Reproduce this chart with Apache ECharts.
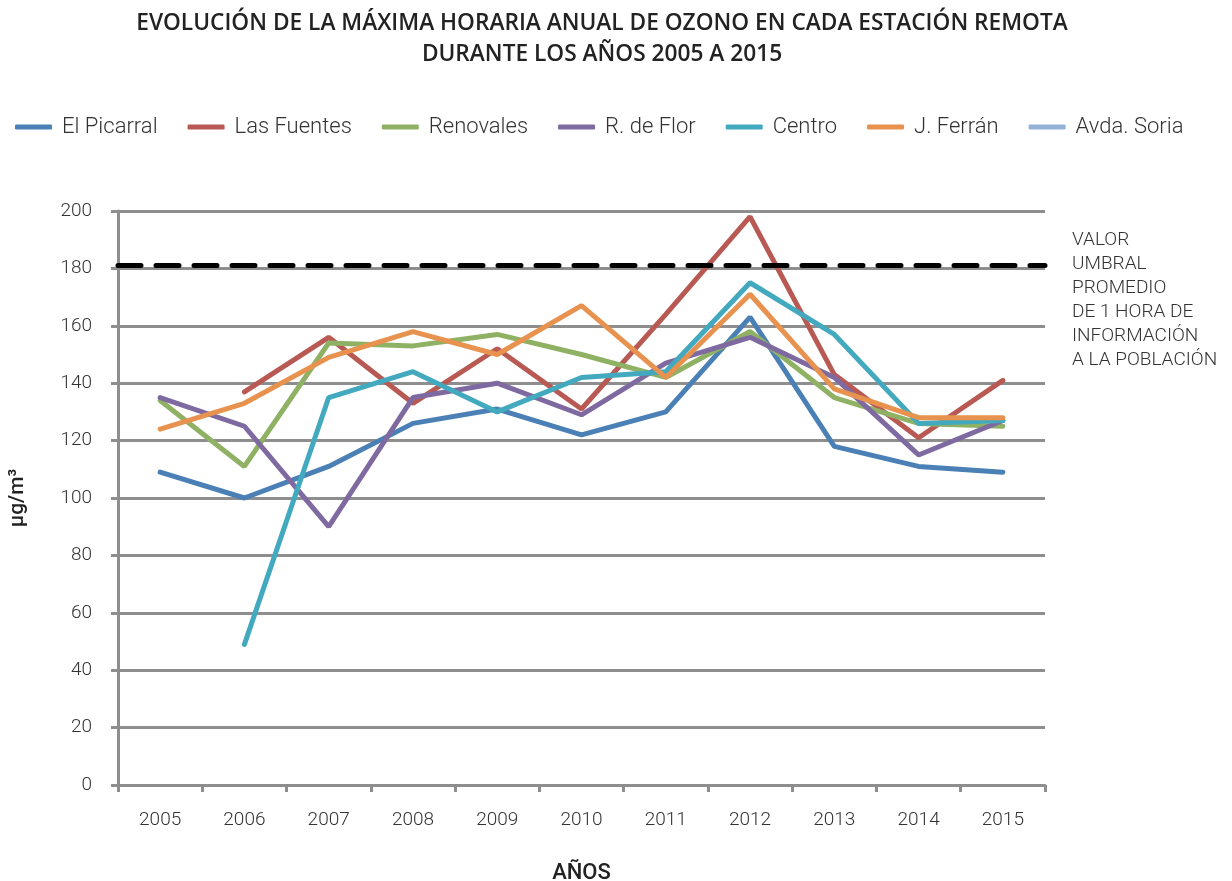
<!DOCTYPE html>
<html>
<head>
<meta charset="utf-8">
<title>Ozono</title>
<script src="https://cdn.jsdelivr.net/npm/echarts@6/dist/echarts.min.js"></script>
<style>
  html, body { margin: 0; padding: 0; background: #fff; overflow: hidden; }
  #chart { width: 1232px; height: 881px; }
</style>
</head>
<body>
<div id="chart"></div>
<script>
// datos (µg/m3)
var years = ["2005", "2006", "2007", "2008", "2009", "2010", "2011", "2012", "2013", "2014", "2015"];
var elPicarral = [109, 100, 111, 126, 131, 122, 130, 163, 118, 111, 109];
var lasFuentes = [null, 137, 156, 133, 152, 131, 164, 198, 143, 121, 141];
var renovales  = [134, 111, 154, 153, 157, 150, 142, 158, 135, 126, 125];
var rDeFlor    = [135, 125, 90, 135, 140, 129, 147, 156, 142, 115, 127];
var centro     = [null, 49, 135, 144, 130, 142, 144, 175, 157, 126, 127];
var jFerran    = [124, 133, 149, 158, 150, 167, 142, 171, 138, 128, 128];
var avdaSoria  = [null, null, null, null, null, null, null, null, null, null, null];
var umbral = 181;

var names = ["El Picarral", "Las Fuentes", "Renovales", "R. de Flor", "Centro", "J. Ferrán", "Avda. Soria"];
var values = [elPicarral, lasFuentes, renovales, rDeFlor, centro, jFerran, avdaSoria];
var colors = ["#4b80b6", "#b85a53", "#8fb163", "#7e6aa1", "#42a9bf", "#e8924f", "#94b2d6"];

var font = "Roboto";
var myChart = echarts.init(document.getElementById("chart"));

var series = names.map(function (n, i) {
  var s = {
    name: n,
    type: "line",
    data: values[i],
    showSymbol: false,
    symbol: "none",
    connectNulls: false,
    lineStyle: { width: 5, color: colors[i], cap: "round" },
    itemStyle: { color: colors[i] },
    animation: false
  };
  if (i === 0) {
    // linea del umbral de informacion
    s.markLine = {
      silent: true,
      symbol: "none",
      animation: false,
      label: { show: false },
      lineStyle: { color: "#000", width: 5, type: [23, 15], cap: "round" },
      data: [{ yAxis: umbral }]
    };
  }
  return s;
});

var option = {
  backgroundColor: "#fff",
  title: {
    text: "EVOLUCIÓN DE LA MÁXIMA HORARIA ANUAL DE OZONO EN CADA ESTACIÓN REMOTA\nDURANTE LOS AÑOS 2005 A 2015",
    left: 597,
    textAlign: "center",
    top: 3,
    textStyle: { fontFamily: "Open Sans", fontSize: 22.7, fontWeight: 600, color: "#222", lineHeight: 31 }
  },
  legend: {
    left: 10,
    top: 111,
    icon: "roundRect",
    itemWidth: 37,
    itemHeight: 5,
    itemGap: 30,
    data: names,
    textStyle: { fontFamily: font, fontSize: 22, fontWeight: 300, color: "#333", padding: [0, 0, 0, 5] }
  },
  grid: { left: 118, width: 927, top: 211, height: 574, outerBoundsMode: "none", containLabel: false },
  xAxis: {
    type: "category",
    data: years,
    boundaryGap: true,
    name: "AÑOS",
    nameLocation: "middle",
    nameGap: 77,
    nameTextStyle: { fontFamily: font, fontSize: 22, fontWeight: 500, color: "#222" },
    axisLine: { lineStyle: { color: "#8e8e8e", width: 3 } },
    axisTick: { show: true, length: 7, lineStyle: { color: "#8e8e8e", width: 3 } },
    axisLabel: { fontFamily: font, fontSize: 19, fontWeight: 300, color: "#333", margin: 26 }
  },
  yAxis: {
    type: "value",
    min: 0,
    max: 200,
    interval: 20,
    name: "µg/m³",
    nameLocation: "middle",
    nameGap: 90,
    nameRotate: 90,
    nameTextStyle: { fontFamily: font, fontSize: 21, fontWeight: 500, color: "#222" },
    axisLine: { show: true, lineStyle: { color: "#8e8e8e", width: 3 } },
    axisTick: { show: true, length: 7, lineStyle: { color: "#8e8e8e", width: 3 } },
    splitLine: { lineStyle: { color: "#8e8e8e", width: 3 } },
    axisLabel: { fontFamily: font, fontSize: 19, fontWeight: 300, color: "#333", margin: 26 }
  },
  graphic: [{
    type: "text",
    left: 1072,
    top: 228,
    style: {
      text: "VALOR\nUMBRAL\nPROMEDIO\nDE 1 HORA DE\nINFORMACIÓN\nA LA POBLACIÓN",
      fontFamily: font,
      fontSize: 19,
      fontWeight: 300,
      lineHeight: 24,
      fill: "#333"
    }
  }],
  series: series
};

myChart.setOption(option);
</script>
</body>
</html>
